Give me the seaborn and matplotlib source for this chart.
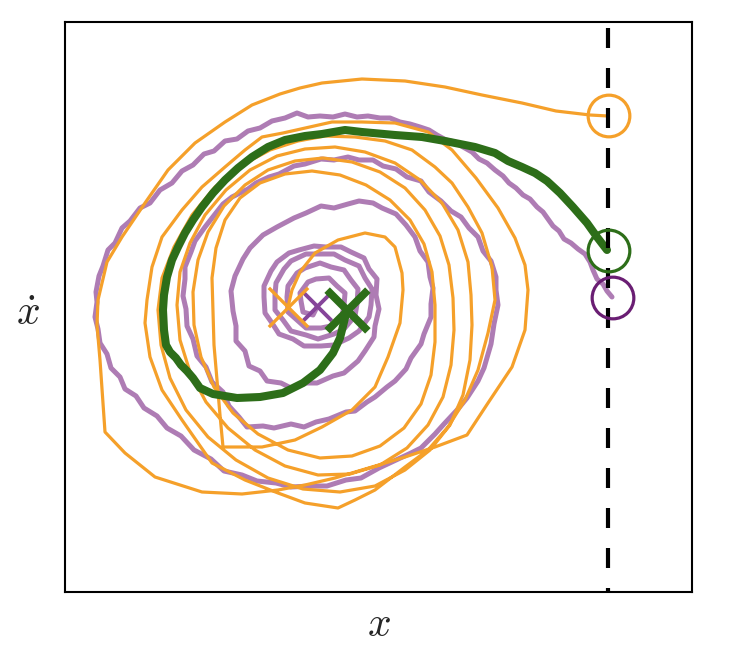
import numpy as np
import pandas as pd
import matplotlib
matplotlib.use("Agg")
import matplotlib.pyplot as plt
import seaborn as sns

sns.set_style("white")
plt.rcParams["mathtext.fontset"] = "cm"

# trajectories (x right, y down as in the image)
orange_path = [
    (608, 116), (590, 115), (556, 111), (522, 103), (482, 95), (445, 87), (405, 81),
    (362, 79), (322, 83), (300, 88), (280, 94), (252, 105), (225, 122), (195, 143),
    (168, 170), (145, 203), (122, 237), (107, 262), (98, 300), (97, 325), (100, 360),
    (105, 432), (125, 453), (155, 477), (202, 492), (242, 494), (278, 490), (305, 485),
    (335, 478), (372, 467), (405, 457), (435, 447), (467, 435), (488, 403), (512, 367),
    (525, 330), (528, 290),
    # loop 1
    (525, 265), (515, 238), (498, 208), (476, 178), (452, 150), (428, 132), (395, 123),
    (362, 122), (332, 122), (305, 128), (283, 133), (262, 137), (245, 150), (225, 167),
    (202, 187), (182, 210), (162, 237), (152, 267), (147, 300), (145, 323), (150, 357),
    (162, 390), (182, 420), (212, 463), (245, 480), (278, 493), (305, 503), (338, 508),
    (355, 500), (375, 490), (405, 467), (428, 450), (448, 427), (465, 400), (478, 370),
    (488, 333), (495, 300),
    # loop 2
    (492, 267), (482, 233), (468, 207), (452, 183), (435, 167), (412, 150), (385, 141),
    (355, 137), (325, 136), (298, 141), (270, 150), (242, 165), (215, 187), (192, 215),
    (174, 247), (162, 278), (158, 310), (161, 345), (170, 378), (186, 410), (208, 437),
    (236, 460), (268, 478), (303, 489), (340, 492), (375, 486), (405, 470), (430, 450),
    (450, 425), (463, 395), (470, 360), (472, 325), (471, 295),
    # loop 3
    (468, 262), (458, 230), (442, 203), (420, 180), (395, 163), (365, 152), (335, 147),
    (305, 149), (277, 156), (250, 170), (226, 190), (205, 215), (190, 243), (180, 272),
    (177, 305), (180, 340), (190, 372), (206, 402), (228, 428), (255, 450), (285, 466),
    (318, 475), (350, 474), (380, 465), (407, 448), (428, 425), (443, 397), (451, 365),
    (454, 330), (453, 298),
    # loop 4
    (449, 265), (440, 236), (425, 210), (405, 188), (380, 172), (352, 162), (323, 158),
    (295, 161), (268, 170), (245, 185), (224, 206), (208, 232), (198, 260), (193, 292),
    (194, 325), (201, 357), (214, 387), (233, 413), (258, 434), (288, 450), (320, 458),
    (352, 456), (380, 446), (404, 428), (421, 404), (431, 375), (435, 342), (435, 305),
    # loop 5 and the end
    (432, 272), (424, 244), (410, 220), (390, 200), (366, 185), (340, 175), (312, 171),
    (285, 174), (260, 183), (240, 198), (225, 220), (216, 248), (212, 278), (213, 310),
    (214, 345), (217, 380), (220, 415), (223, 447), (262, 447), (295, 440), (322, 427),
    (352, 410), (375, 387), (388, 357), (400, 323), (403, 290), (402, 273), (395, 247),
    (385, 237), (365, 233), (338, 240), (315, 253), (300, 272), (292, 290), (288, 307),
]

purple_path = [
    (612, 297), (607, 291), (603, 284), (597, 279), (593, 270), (590, 262), (585, 254),
    (578, 249), (571, 243), (564, 239), (559, 231), (553, 226), (548, 219), (543, 212),
    (537, 207), (530, 199), (523, 195), (516, 188), (509, 183), (503, 176), (495, 170),
    (487, 163), (479, 159), (472, 152), (463, 147), (455, 142), (446, 140), (437, 135),
    (429, 130), (420, 127), (410, 124), (400, 122), (390, 118), (380, 118), (368, 116),
    (357, 117), (345, 114), (333, 117), (320, 116), (308, 117), (297, 113), (285, 118),
    (272, 121), (260, 128), (248, 131), (237, 139), (225, 141), (214, 151), (204, 154),
    (193, 165), (182, 171), (172, 183), (160, 190), (150, 203), (140, 208), (130, 221),
    (122, 228), (115, 243), (108, 250), (103, 266), (99, 276), (96, 292), (97, 302),
    (95, 317), (98, 329), (100, 343), (107, 354), (111, 368), (120, 377), (125, 389),
    (136, 396), (144, 408), (157, 416), (167, 428), (181, 436), (194, 450), (211, 459),
    (224, 471), (242, 475), (257, 481), (276, 483), (291, 487), (311, 486), (327, 486),
    (346, 480), (361, 478), (379, 468), (394, 461), (411, 453), (421, 448), (435, 434),
    (444, 424), (458, 409), (467, 398), (478, 381), (484, 368), (491, 344), (494, 324),
    (498, 305), (496, 290), (496, 277), (491, 261), (483, 251), (478, 237), (469, 228),
    (461, 217), (451, 211), (441, 201), (429, 192), (421, 181), (407, 177), (396, 169),
    (383, 166), (373, 160), (359, 160), (348, 157), (334, 160), (321, 159), (305, 164),
    (294, 166), (279, 174), (269, 177), (256, 183), (248, 189), (232, 197), (223, 204),
    (212, 218), (205, 227), (195, 241), (191, 252), (185, 267), (185, 279), (183, 296),
    (186, 309), (187, 326), (193, 339), (197, 356), (206, 367), (212, 382), (223, 392),
    (229, 406), (239, 417), (247, 427), (263, 426), (274, 428), (291, 424), (304, 427),
    (316, 422), (329, 419), (346, 412), (355, 411), (367, 402), (375, 397), (387, 387),
    (395, 381), (406, 369), (411, 358), (421, 344), (424, 334), (431, 317), (431, 304),
    (433, 288), (430, 277), (428, 262), (420, 251), (415, 237), (406, 225), (396, 214),
    (382, 208), (373, 203), (359, 201), (348, 204), (334, 208), (321, 206), (306, 213),
    (294, 218), (277, 227), (263, 235), (250, 248), (243, 259), (235, 276), (231, 291),
    (233, 311), (236, 326), (236, 341), (245, 351), (249, 366), (260, 371), (267, 381),
    (281, 383), (291, 388), (306, 383), (317, 383), (333, 376), (344, 373), (358, 361),
    (365, 351), (374, 337), (375, 326), (379, 309), (376, 295), (377, 279), (369, 269),
    (364, 258), (351, 252), (341, 247), (326, 247), (314, 246), (299, 250), (289, 253),
    (277, 262), (271, 271), (264, 286), (264, 297), (265, 313), (272, 323), (279, 334),
    (293, 339), (304, 346), (321, 346), (334, 345), (349, 338), (359, 331), (369, 317),
    (371, 305), (372, 289), (365, 278), (359, 266), (345, 260), (334, 254), (318, 254),
    (306, 254), (291, 261), (284, 269), (276, 283), (275, 295), (275, 310), (283, 320),
    (291, 331), (306, 335), (318, 339), (334, 334), (344, 329), (355, 316), (357, 304),
    (358, 289), (351, 280), (344, 270), (331, 267), (320, 263), (305, 268), (297, 273),
    (288, 286), (287, 297), (288, 312), (297, 320), (306, 328), (321, 328), (331, 326),
    (342, 316), (344, 306), (345, 293), (337, 286), (329, 278), (316, 279), (308, 282),
    (300, 293), (301, 301), (303, 312), (313, 315), (317, 307),
]

green_path = [
    (607, 250), (597, 237), (587, 223), (573, 207), (560, 193), (547, 181), (535, 173),
    (522, 167), (508, 161), (495, 153), (475, 147), (445, 141), (422, 137), (395, 135),
    (362, 132), (345, 130), (322, 134), (305, 136), (285, 140), (268, 147), (252, 157),
    (238, 168), (225, 180), (213, 193), (202, 207), (193, 220), (185, 233), (178, 247),
    (172, 260), (167, 277), (164, 295), (163, 310), (164, 330), (166, 345), (170, 352),
    (176, 358), (181, 365), (187, 371), (193, 378), (200, 388), (213, 394), (237, 398),
    (260, 397), (283, 393), (303, 383), (320, 370), (333, 353), (340, 338), (344, 322),
    (347, 310),
]

names = ["orange", "purple", "green"]
line_colors = ["#F5A02A", "#AE7CB4", "#2D6E19"]
start_colors = ["#F5A02A", "#6A1E73", "#2D6E19"]
end_colors = ["#F5A02A", "#86459A", "#2D6E19"]
start_x = [609, 613, 609]
start_y = [116, 298, 251]
end_x = [288, 317, 347]
end_y = [307, 306, 310]
dashed_x = 608

fig = plt.figure(figsize=(7.32, 6.53), dpi=100)
ax = fig.add_axes([65 / 732, 61 / 653, 627 / 732, 570 / 653])

widths = {"purple": 3.6, "orange": 2.3, "green": 5.8}
zorders = {"purple": 2, "orange": 3, "green": 4}
paths = {"orange": orange_path, "purple": purple_path, "green": green_path}
for name, col in zip(names, line_colors):
    df = pd.DataFrame(paths[name], columns=["x", "y"])
    sns.lineplot(data=df, x="x", y="y", sort=False, estimator=None, color=col,
                 lw=widths[name], ax=ax, zorder=zorders[name])

ax.axvline(dashed_x, color="black", lw=3, linestyle=(3.84, (4.8, 4.8)), zorder=5)

# start circles
for i, name in enumerate(names):
    sns.scatterplot(x=[start_x[i]], y=[start_y[i]], marker="o", s=900,
                    facecolor="none", edgecolor=start_colors[i], linewidth=2.3,
                    ax=ax, zorder=6)

# end crosses
cross_sizes = [800, 420, 860]
cross_widths = [2.4, 2.8, 5.6]
cross_z = [4.5, 4.2, 7]
for i, name in enumerate(names):
    sns.scatterplot(x=[end_x[i]], y=[end_y[i]], marker="x", s=cross_sizes[i],
                    color=end_colors[i], linewidth=cross_widths[i], ax=ax,
                    zorder=cross_z[i])

ax.set_xlim(65, 692)
ax.set_ylim(592, 22)
ax.set_xticks([])
ax.set_yticks([])
for sp in ax.spines.values():
    sp.set_color("black")
    sp.set_linewidth(1.5)

ax.set_xlabel("$x$", fontsize=30, va="center")
ax.set_ylabel(r"$\dot{x}$", fontsize=30, rotation=0, va="center", ha="center")
ax.xaxis.set_label_coords(0.5, -0.056)
ax.yaxis.set_label_coords(-0.059, 0.49)

fig.savefig("out.png", dpi=100)
